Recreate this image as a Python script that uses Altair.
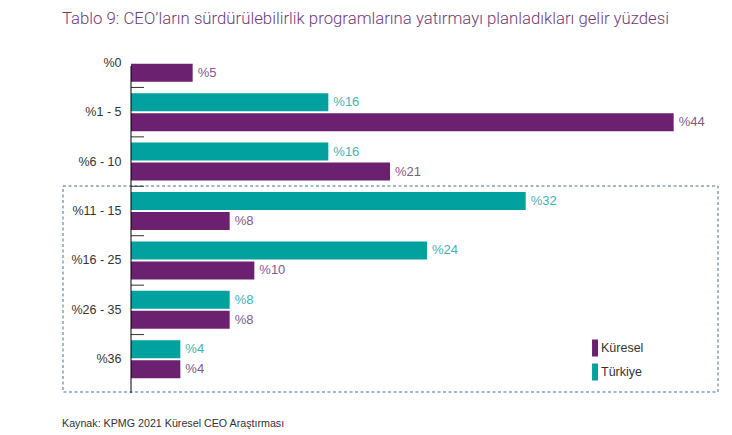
import altair as alt
import pandas as pd

categories = ["%0", "%1 - 5", "%6 - 10", "%11 - 15", "%16 - 25", "%26 - 35", "%36"]
turkiye = [None, 16, 16, 32, 24, 8, 4]
kuresel = [5, 44, 21, 8, 10, 8, 4]
series = ["Küresel", "Türkiye"]

PURPLE = "#6b2170"
TEAL = "#00a19e"
PURPLE_TXT = "#84598d"
TEAL_TXT = "#45b2af"

rows = []
for c, t, k in zip(categories, turkiye, kuresel):
    if t is not None:
        rows.append({"cat": c, "series": "Türkiye", "value": t})
    if k is not None:
        rows.append({"cat": c, "series": "Küresel", "value": k})
df = pd.DataFrame(rows)
df["label"] = "%" + df["value"].astype(int).astype(str)

ticks_df = pd.DataFrame({"cat": categories[1:]})
one = pd.DataFrame({"k": [0]})

y_enc = alt.Y("cat:N", sort=categories,
              scale=alt.Scale(paddingInner=0, paddingOuter=0),
              axis=alt.Axis(title=None, domain=False, ticks=False, labelPadding=10,
                            labelFontSize=12.5, labelColor="#333333",
                            labelFont="Liberation Sans", grid=False))
yoff = alt.YOffset("series:N", sort=["Türkiye", "Küresel"],
                   scale=alt.Scale(paddingInner=0.1, paddingOuter=0.286))
x_enc = alt.X("value:Q", scale=alt.Scale(domain=[0, 48]), axis=None)

bars = alt.Chart(df).mark_bar().encode(
    y=y_enc, yOffset=yoff, x=x_enc,
    color=alt.Color("series:N",
                    scale=alt.Scale(domain=series, range=[PURPLE, TEAL]),
                    legend=alt.Legend(title=None, orient="none", legendX=450, legendY=301.5,
                                      padding=0, symbolType="M0.3,-1H1V1H0.3Z",
                                      symbolSize=289, symbolStrokeWidth=0,
                                      labelOffset=3, rowPadding=7, labelFontSize=12.5,
                                      labelColor="#333333", labelFont="Liberation Sans")),
)

texts = alt.Chart(df).mark_text(align="left", baseline="middle", dx=5, fontSize=13,
                                font="Liberation Sans").encode(
    y=alt.Y("cat:N", sort=categories), yOffset=yoff, x=x_enc,
    text="label:N",
    color=alt.Color("series:N", scale=alt.Scale(domain=series, range=[PURPLE_TXT, TEAL_TXT]),
                    legend=None),
)

ticks = alt.Chart(ticks_df).mark_rule(color="#333333", strokeWidth=1).encode(
    y=alt.Y("cat:N", sort=categories, bandPosition=0),
    x=alt.value(0), x2=alt.value(13),
)

axis_line = alt.Chart(one).mark_rule(color="#000000", strokeWidth=1).encode(
    x=alt.value(0), y=alt.value(28), y2=alt.value(355),
)

box = alt.Chart(one).mark_rect(fill=None, stroke="#46708f", strokeWidth=1,
                               strokeDash=[3, 2.5]).encode(
    x=alt.value(-68), x2=alt.value(587), y=alt.value(148), y2=alt.value(354),
)

source = alt.Chart(one).mark_text(align="left", baseline="middle", fontSize=10.7,
                                  font="Liberation Sans", color="#333333").encode(
    x=alt.value(-69), y=alt.value(386), text=alt.value("Kaynak: KPMG 2021 Küresel CEO Araştırması"),
)

chart = alt.layer(box, bars, texts, ticks, axis_line, source).resolve_scale(
    color="independent"
).properties(
    width=592, height=346,
    padding={"left": 131, "top": 38, "right": 9, "bottom": 51},
    autosize=alt.AutoSizeParams(type="none"),
    title=alt.TitleParams("Tablo 9: CEO’ların sürdürülebilirlik programlarına yatırmayı planladıkları gelir yüzdesi",
                          anchor="start", frame="group", dx=-69, fontSize=16.75, font="Roboto",
                          fontWeight=300, color="#70397a", offset=10),
).configure_view(stroke=None)

chart.save("out.html", embed_options={"renderer": "svg", "actions": False})
